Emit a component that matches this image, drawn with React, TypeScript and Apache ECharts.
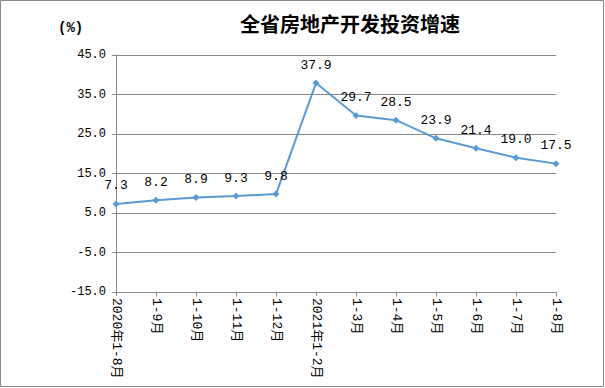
import React, { useEffect, useRef } from "react";
import * as echarts from "echarts";

const categories = ["2020年1-8月", "1-9月", "1-10月", "1-11月", "1-12月", "2021年1-2月", "1-3月", "1-4月", "1-5月", "1-6月", "1-7月", "1-8月"];
const growth = [7.3, 8.2, 8.9, 9.3, 9.8, 37.9, 29.7, 28.5, 23.9, 21.4, 19.0, 17.5];
const titleText = "全省房地产开发投资增速";
const unitText = "(%)";

const MONO = "'Liberation Mono', 'DejaVu Sans Mono', 'Noto Sans CJK SC', monospace";

export default function App() {
  const ref = useRef<HTMLDivElement>(null);
  useEffect(() => {
    if (!ref.current) return;
    const chart = echarts.init(ref.current, null, { renderer: "svg" });
    chart.setOption({
      animation: false,
      backgroundColor: "#ffffff",
      title: {
        text: titleText,
        left: 345,
        textAlign: "center",
        top: 8,
        textStyle: { fontFamily: "'Noto Sans CJK SC'", fontSize: 20, fontWeight: "bold", color: "#000" },
      },
      graphic: [
        { type: "rect", shape: { x: 0.5, y: 0.5, width: 603, height: 386 }, style: { fill: "none", stroke: "#888", lineWidth: 1 }, silent: true },
        { type: "text", left: 58, top: 21, style: { text: unitText, font: "bold 14px 'Liberation Mono', 'Noto Sans CJK SC'", fill: "#000" } },
      ],
      grid: { left: 116, right: 49, top: 55, bottom: 96 },
      xAxis: {
        type: "category",
        data: categories,
        boundaryGap: false,
        axisLine: { onZero: false, lineStyle: { color: "#888" } },
        axisTick: { alignWithLabel: true, length: 4, lineStyle: { color: "#888" } },
        axisLabel: { rotate: -90, margin: 6, interval: 0, fontFamily: MONO, fontSize: 13, color: "#000" },
      },
      yAxis: {
        type: "value",
        min: -15,
        max: 45,
        interval: 10,
        axisLine: { show: true, lineStyle: { color: "#888" } },
        axisTick: { show: true, length: 4, lineStyle: { color: "#888" } },
        splitLine: { lineStyle: { color: "#888" } },
        axisLabel: { formatter: (v: number) => v.toFixed(1), margin: 10, fontFamily: MONO, fontSize: 12, color: "#000" },
      },
      series: [
        {
          type: "line",
          data: growth,
          symbol: "diamond",
          symbolSize: 7,
          lineStyle: { color: "#5B9BD5", width: 2 },
          itemStyle: { color: "#5B9BD5" },
          label: {
            show: true,
            position: "top",
            distance: 8,
            formatter: (p: any) => Number(p.value).toFixed(1),
            fontFamily: MONO,
            fontSize: 13,
            color: "#000",
          },
        },
      ],
    });
    return () => chart.dispose();
  }, []);
  return <div ref={ref} style={{ position: "fixed", left: 0, top: 0, width: 605, height: 388 }} />;
}
